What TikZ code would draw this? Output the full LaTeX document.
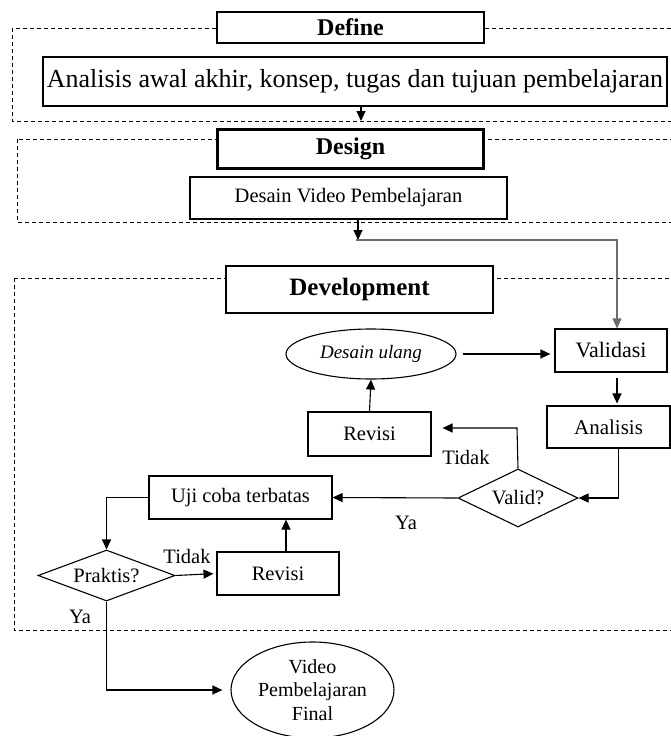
\documentclass[tikz,border=0pt]{standalone}
\usepackage{fontspec}
\setmainfont{Liberation Serif}
\usetikzlibrary{arrows.meta,shapes.geometric,calc}
\begin{document}
\begin{tikzpicture}[x=1pt,y=-1pt,
  every node/.style={font=\fontsize{20.5}{24}\selectfont, inner sep=0pt},
  box/.style={draw, line width=1.1pt, fill=white, rectangle},
  headbox/.style={draw, line width=2.8pt, fill=white, rectangle, font=\fontsize{24}{28}\selectfont\bfseries},
  frame/.style={draw, line width=1pt, dash pattern=on 4pt off 3pt},
  oval/.style={draw, line width=1.1pt, fill=white, ellipse},
  decision/.style={draw, line width=1.1pt, fill=white, diamond},
  arr/.style={line width=1.1pt, -{Triangle[length=10pt,width=9pt]}},
  lbl/.style={font=\fontsize{20.5}{24}\selectfont}
]
\useasboundingbox (0,0) rectangle (671,736);
\clip (0,0) rectangle (671,736);

% dashed phase frames
\draw[frame] (12,28) rectangle (700,121);
\draw[frame] (17,139) rectangle (700,222);
\draw[frame] (14,278) rectangle (700,630);

% Define
\node[headbox, minimum width=267pt, minimum height=31pt] (define) at (350.5,27.5) {Define};
\node[box, minimum width=624pt, minimum height=49pt, font=\fontsize{26}{30}\selectfont] (ana1) at (355,81.5) {Analisis awal akhir, konsep, tugas dan tujuan pembelajaran};
\coordinate (d1) at (361,121);

% Design
\node[headbox, minimum width=266pt, minimum height=39pt] (design) at (350.5,149) {Design};
\node[box, minimum width=317pt, minimum height=42pt] (desvid) at (348.5,198) {Desain Video Pembelajaran};
\coordinate (j1) at (358,240);

% Development
\node[headbox, minimum width=267pt, minimum height=47pt, font=\fontsize{25}{28}\selectfont\bfseries] (devel) at (359.5,289.5) {Development};
\node[box, minimum width=112pt, minimum height=43pt, font=\fontsize{22}{26}\selectfont] (valid) at (611,350.5) {Validasi};
\node[oval, minimum width=170pt, minimum height=50pt, font=\fontsize{19}{22}\selectfont\itshape] (ulang) at (371,354) {Desain ulang};
\node[box, minimum width=123pt, minimum height=42pt, font=\fontsize{21}{24}\selectfont] (ana2) at (608.5,427) {Analisis};
\node[box, minimum width=123pt, minimum height=44pt] (rev1) at (369.5,434) {Revisi};
\node[decision, aspect=2, minimum width=120pt, minimum height=58pt] (vq) at (518,498) {Valid?};
\node[box, minimum width=183pt, minimum height=43pt] (uji) at (240.5,497.5) {Uji coba terbatas};
\node[decision, aspect=2.7, minimum width=137pt, minimum height=51pt] (pq) at (106.5,575.5) {Praktis?};
\node[box, minimum width=122pt, minimum height=43pt] (rev2) at (278,573.5) {Revisi};
\node[oval, minimum width=163pt, minimum height=96pt, align=center, font=\fontsize{20}{23.5}\selectfont] (final) at (312.5,690) {Video\\Pembelajaran\\Final};

\coordinate (vx) at (617,350);
\coordinate (t1) at (517,428);
\coordinate (r2) at (286,552);

% connectors
\draw[arr] (ana1.south -| d1) -- (d1);
\draw[arr] (desvid.south -| j1) -- (j1);
\draw[line width=1.1pt, draw=gray!85!black, -{Triangle[length=10pt,width=9pt]}, shorten <=-2pt] (j1) -| (vx |- valid.north);
\draw[arr, shorten <=6pt, shorten >=4pt] (ulang.east) -- (ulang.east -| valid.west);
\draw[arr, shorten <=5pt, shorten >=2pt] (vx |- valid.south) -- (vx |- ana2.north);
\draw[arr] ($(ana2.south)+(10,0)$) |- (vq.east);
\draw[arr, shorten >=11pt] (vq.north) -- (t1) -- (t1 -| rev1.east);
\draw[arr] (rev1.north) -- (ulang.south);
\draw[arr] (vq.west) -- (uji.east);
\draw[arr] (uji.west) -| (pq.north);
\draw[arr, shorten >=3pt] (pq.east) -- (rev2.west);
\draw[arr] (r2) -- (r2 |- uji.south);
\draw[arr, shorten >=8pt] (pq.south) |- (final.west);

% labels
\node[lbl] (l1) at (466,457) {Tidak};
\node[lbl] (l2) at (406,523) {Ya};
\node[lbl] (l3) at (187,556) {Tidak};
\node[lbl] (l4) at (80,617) {Ya};
\end{tikzpicture}
\end{document}
